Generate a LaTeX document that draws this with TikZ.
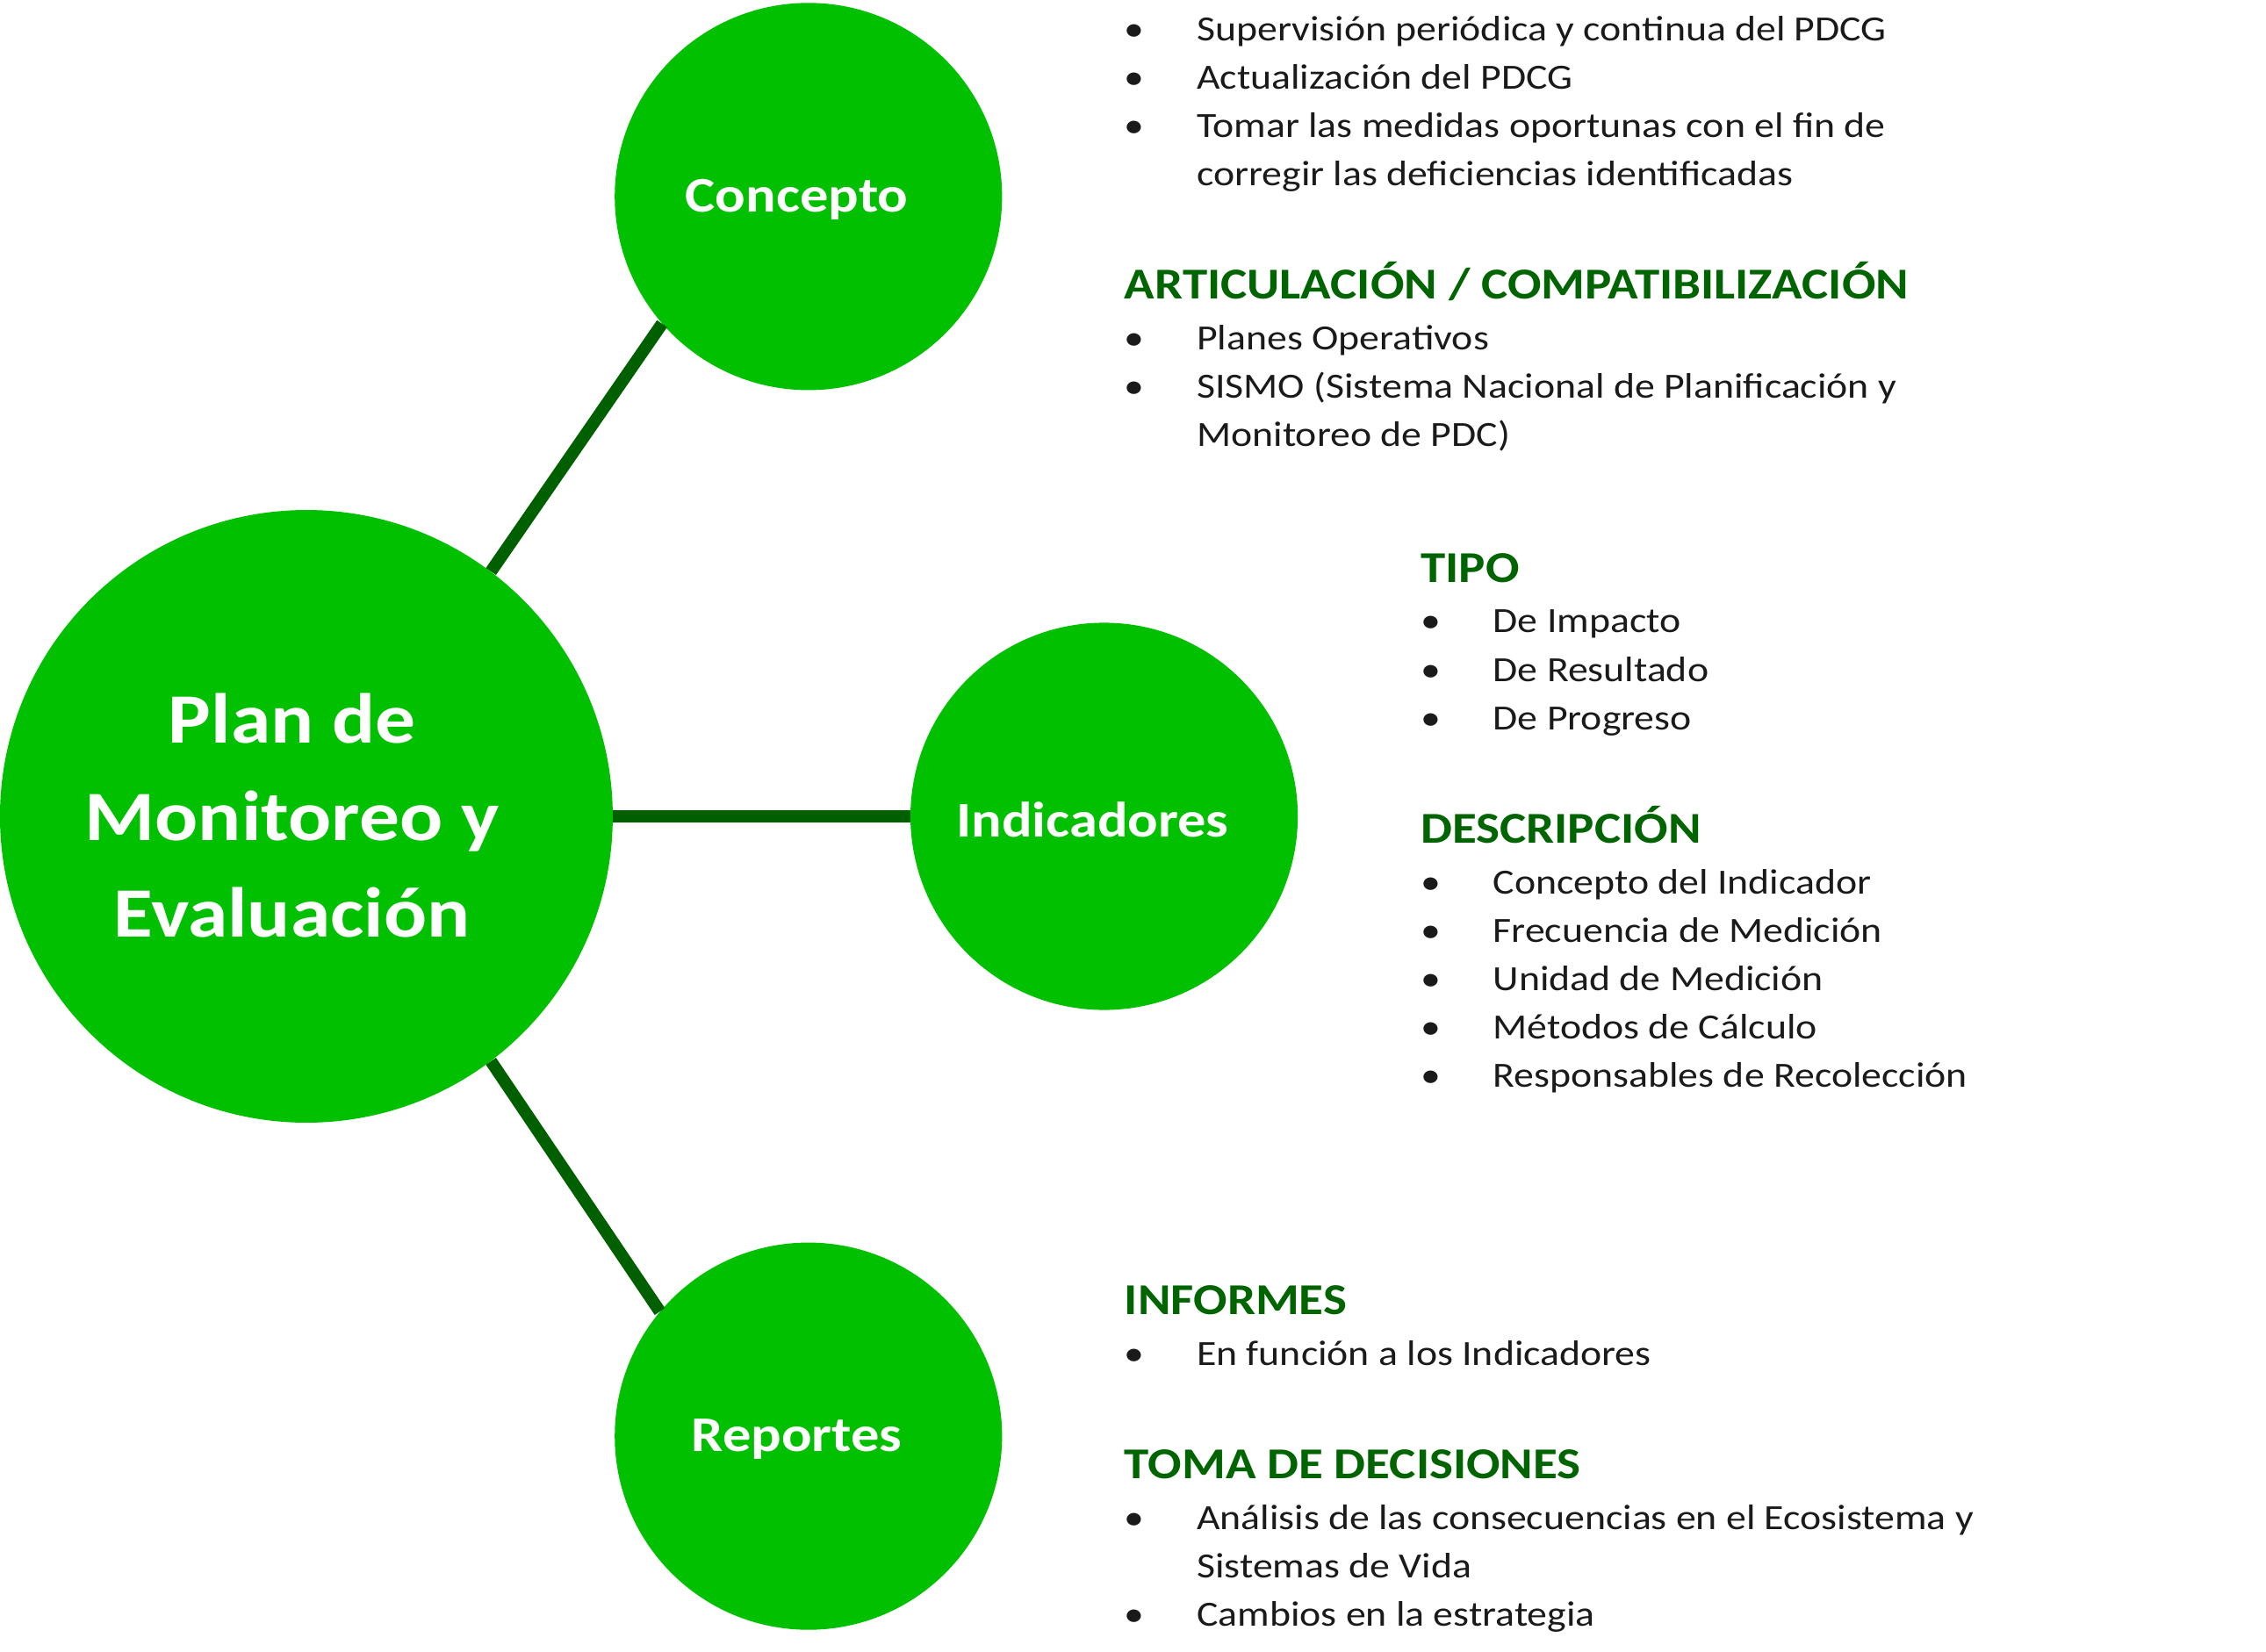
\documentclass[tikz,border=0pt]{standalone}
\usepackage{fontspec}
\setmainfont{Carlito}[FakeStretch=1.135]
\definecolor{nodegreen}{RGB}{0,192,0}
\definecolor{linkgreen}{RGB}{0,96,0}
\definecolor{headgreen}{RGB}{0,100,0}
\definecolor{bodytext}{RGB}{26,26,26}
\newcommand{\hd}[1]{\multicolumn{2}{@{}l@{}}{\smash{\fontsize{30.5}{34}\selectfont\bfseries\color{headgreen}#1}}}
\newcommand{\bl}{\textbullet}
% text sits a little left of and below the circle centre
\newcommand{\nudge}[3]{\raisebox{-#2}[\height][\depth]{#3}\hspace{#1}\mbox{}}
\begin{document}
\begin{tikzpicture}[x=1pt, y=1pt,
    level distance=552pt, sibling distance=0pt,
    hub/.style={circle, fill=nodegreen, text=white, inner sep=0pt, minimum size=424pt,
      font=\fontsize{49}{67}\selectfont\bfseries},
    spoke/.style={circle, fill=nodegreen, text=white, inner sep=0pt, minimum size=268pt,
      font=\fontsize{34.5}{40}\selectfont\bfseries},
    edge from parent/.style={draw=linkgreen, line width=8.5pt},
    notes/.style={anchor=base west, inner sep=0pt, text=bodytext,
      font=\fontsize{24.5}{33.5}\selectfont}]
  \useasboundingbox (0,0) rectangle (1568,1143);
  \node[hub] (plan) at (212,578)
    {\nudge{20pt}{3pt}{\begin{tabular}{@{}c@{}}Plan de\\Monitoreo y\\Evaluación\end{tabular}}}
    child[grow=51.3,
      edge from parent path={(\tikzparentnode.53) -- (\tikzchildnode.221.6)}]
      {node[spoke] (concepto) {\nudge{16pt}{2pt}{Concepto}}}
    child[grow=0] {node[spoke] (indicadores) {\nudge{16pt}{2pt}{Indicadores}}}
    child[grow=-51.1,
      edge from parent path={(\tikzparentnode.-53.5) -- (\tikzchildnode.140.6)}]
      {node[spoke] (reportes) {\nudge{16pt}{2pt}{Reportes}}};
  \node[notes] (concepto-notes) at (778,1115) {\begin{tabular}[t]{@{}p{50pt}@{}l@{}}
      \bl & Supervisión periódica y continua del PDCG\\
      \bl & Actualización del PDCG\\
      \bl & Tomar las medidas oportunas con el fin de\\
          & corregir las deficiencias identificadas\\[45pt]
      \hd{ARTICULACIÓN / COMPATIBILIZACIÓN}\\[1.5pt]
      \bl & Planes Operativos\\
      \bl & SISMO (Sistema Nacional de Planificación y\\
          & Monitoreo de PDC)
    \end{tabular}};
  \node[notes] (indicadores-notes) at (983,740) {\begin{tabular}[t]{@{}p{50pt}@{}l@{}}
      \hd{TIPO}\\[1.5pt]
      \bl & De Impacto\\
      \bl & De Resultado\\
      \bl & De Progreso\\[45pt]
      \hd{DESCRIPCIÓN}\\[1.5pt]
      \bl & Concepto del Indicador\\
      \bl & Frecuencia de Medición\\
      \bl & Unidad de Medición\\
      \bl & Métodos de Cálculo\\
      \bl & Responsables de Recolección
    \end{tabular}};
  \node[notes] (reportes-notes) at (778,233) {\begin{tabular}[t]{@{}p{50pt}@{}l@{}}
      \hd{INFORMES}\\[1.5pt]
      \bl & En función a los Indicadores\\[45pt]
      \hd{TOMA DE DECISIONES}\\[1.5pt]
      \bl & Análisis de las consecuencias en el Ecosistema y\\
          & Sistemas de Vida\\
      \bl & Cambios en la estrategia
    \end{tabular}};
\end{tikzpicture}
\end{document}
